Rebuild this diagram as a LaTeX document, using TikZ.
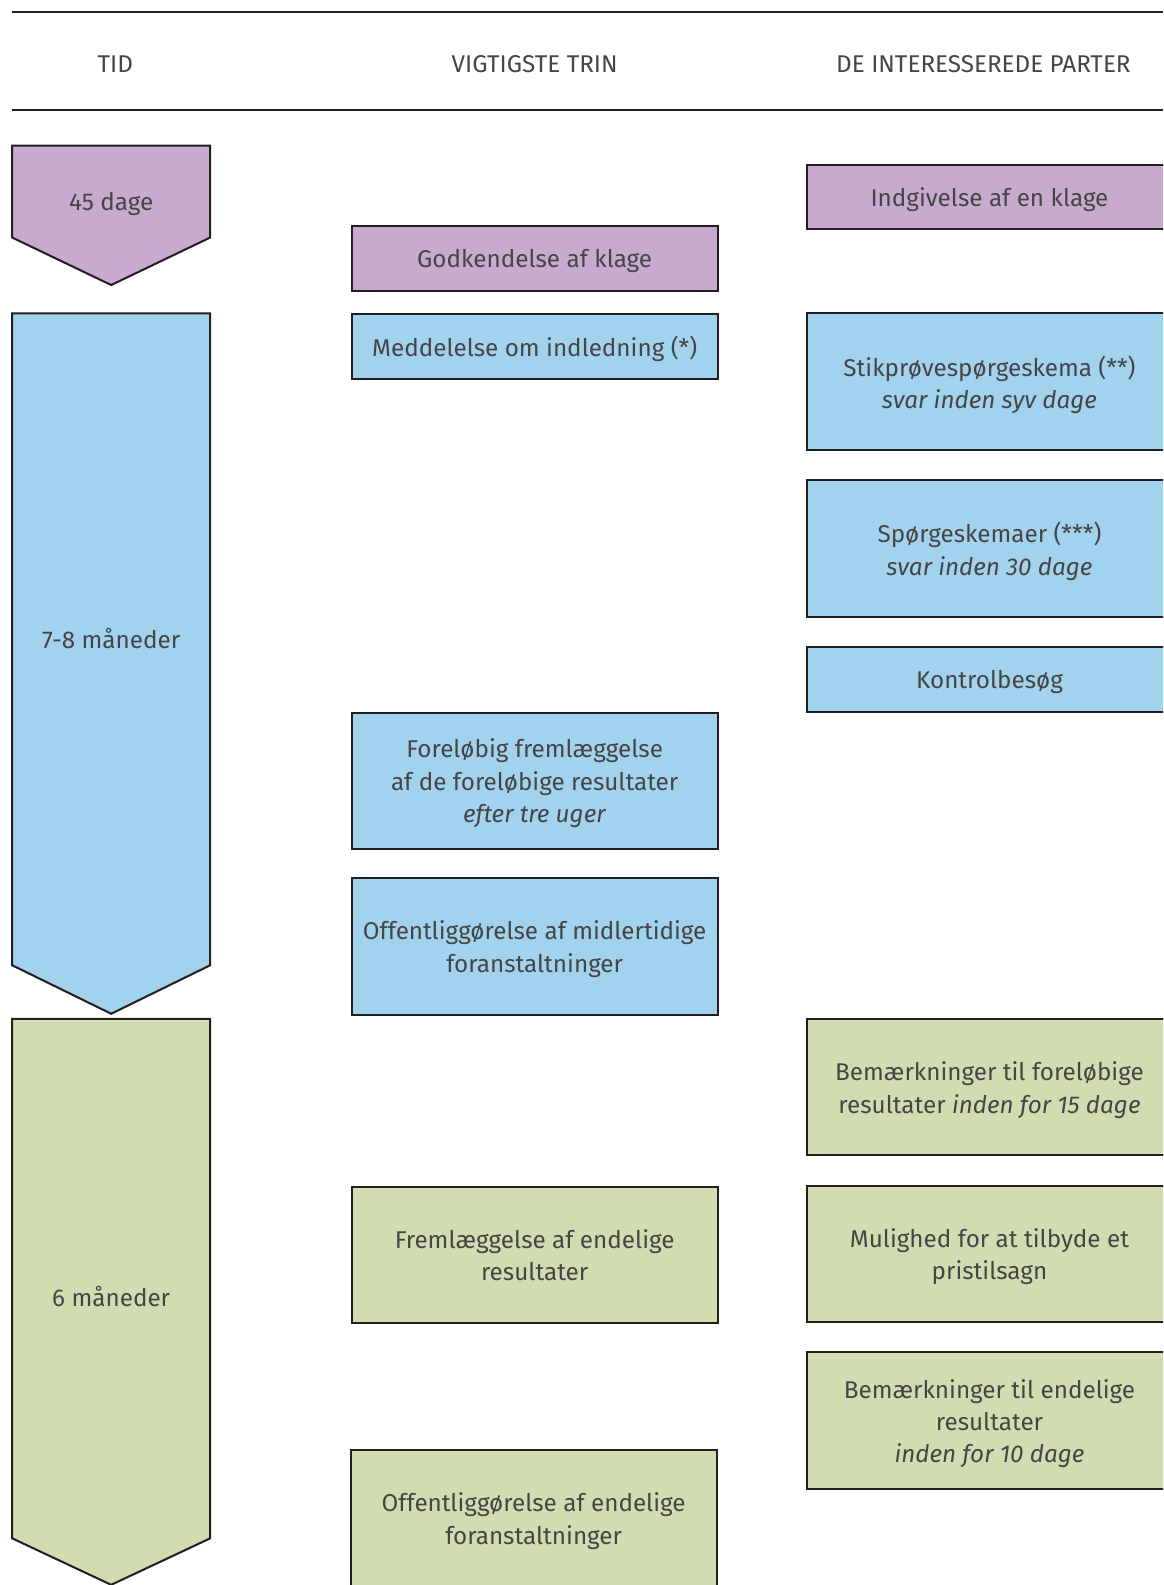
\documentclass[tikz,border=0pt]{standalone}
\usepackage{fontspec}
\setmainfont{Fira Sans}
\usepackage{tikz}
\usetikzlibrary{positioning}
\definecolor{lilla}{HTML}{C9AACF}
\definecolor{blaa}{HTML}{A1D3EE}
\definecolor{groen}{HTML}{D1DDB0}
\definecolor{kant}{HTML}{231F20}
\definecolor{tekst}{HTML}{454545}

\begin{document}
\begin{tikzpicture}[x=1pt,y=-1pt,line width=2pt,
    font=\fontsize{24}{32}\selectfont,text=tekst,
    boks/.style={draw=kant,align=center,inner sep=0pt,text depth=0pt,minimum width=362pt,anchor=north west},
    lav/.style={minimum height=64pt},
    hoej/.style={minimum height=135pt},
    pil/.style={draw=kant,line join=miter}]
    \useasboundingbox (0,0) rectangle (1150.7,1568.2);
    \clip (0,0) rectangle (1150.7,1568.2);
    \coordinate (hkant) at (1150.7,0);

    % header
    \draw[kant] (12,12) -- (hkant |- 0,12);
    \draw[kant] (12,109) -- (hkant |- 0,109);
    \node (tid) at (114,63) {TID};
    \node (trin) at (529,63) {VIGTIGSTE TRIN};
    \node (parter) at (973,63) {DE INTERESSEREDE PARTER};

    % tidspile
    \draw[pil,fill=lilla] (12,144) -- (208,144) -- (208,235) -- (110,282) -- (12,235) -- cycle;
    \node (dage45) at (110,202) {45 dage};
    \draw[pil,fill=blaa] (12,310) -- (208,310) -- (208,955) -- (110,1003) -- (12,955) -- cycle;
    \node (mdr78) at (110,632) {7-8 måneder};
    \draw[pil,fill=groen] (12,1008) -- (208,1008) -- (208,1522) -- (110,1568) -- (12,1522) -- cycle;
    \node (mdr6) at (110,1283) {6 måneder};

    % vigtigste trin
    \node[boks,lav,fill=lilla] (godk) at (347,223) {Godkendelse af klage};
    \node[boks,lav,fill=blaa] (medd) at (347,310) {Meddelelse om indledning (*)};
    \node[boks,hoej,fill=blaa] (forel) at (347,704) {Foreløbig fremlæggelse\\af de foreløbige resultater\\\textit{efter tre uger}};
    \node[boks,hoej,fill=blaa] (midl) at (347,868) {Offentliggørelse af midlertidige\\foranstaltninger};
    \node[boks,hoej,fill=groen] (endres) at (347,1173) {Fremlæggelse af endelige\\resultater};
    % sidste boks fortsaetter under billedkanten
    \fill[groen] (347,1435) rectangle (709,1575);
    \draw[kant] (347,1575) -- (347,1435) -- (709,1435) -- (709,1575);
    \node[align=center] (endfor) at (528,1505) {Offentliggørelse af endelige\\foranstaltninger};

    % de interesserede parter (aabne mod hoejre)
    \foreach \navn/\top/\hoejde/\farve/\txt in {
        indg/163/64/lilla/{Indgivelse af en klage},
        stik/310/135/blaa/{Stikprøvespørgeskema (**)\\\textit{svar inden syv dage}},
        spoerg/475/135/blaa/{Spørgeskemaer (***)\\\textit{svar inden 30 dage}},
        kontrol/640/64/blaa/{Kontrolbesøg},
        bemforel/1008/135/groen/{Bemærkninger til foreløbige\\resultater \textit{inden for 15 dage}},
        mulig/1173/135/groen/{Mulighed for at tilbyde et\\pristilsagn},
        bemend/1338/135/groen/{Bemærkninger til endelige\\resultater\\\textit{inden for 10 dage}}}{
      \fill[\farve] (798,\top) rectangle (1160,{\top+\hoejde});
      \draw[kant] (1160,\top) -- (798,\top) -- (798,{\top+\hoejde}) -- (1160,{\top+\hoejde});
      \node[align=center] (\navn) at (979,{\top+\hoejde/2+3}) {\txt};
    }
\end{tikzpicture}
\end{document}
